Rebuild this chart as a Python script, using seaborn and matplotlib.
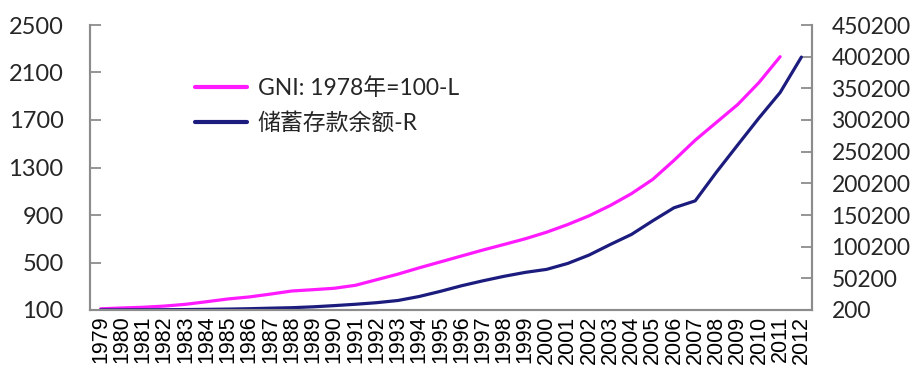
import numpy as np
import pandas as pd
import matplotlib
matplotlib.use("Agg")
import matplotlib.pyplot as plt
import seaborn as sns
from matplotlib.lines import Line2D

# Years on the category axis
years = list(range(1979, 2013))

# GNI index (1978 = 100), left axis; 2012 not available
gni_index = [110, 117, 123, 133, 148, 170, 193, 210, 234, 260, 271, 283, 308,
             355, 402, 455, 505, 555, 605, 652, 700, 755, 820, 893, 980, 1080,
             1200, 1360, 1530, 1680, 1830, 2015, 2233, np.nan]

# Savings deposit balance, right axis
savings = [281, 400, 524, 675, 893, 1215, 1623, 2238, 3081, 3822, 5196, 7120,
           9242, 11759, 15204, 21519, 29662, 38521, 46280, 53408, 59622, 64332,
           73762, 86911, 103618, 119555, 141051, 161587, 172534, 217885, 260772,
           303303, 343636, 399551]

label_gni = "GNI: 1978年=100-L"
label_sav = "储蓄存款余额-R"

left_ticks = [100, 500, 900, 1300, 1700, 2100, 2500]
right_ticks = [200, 50200, 100200, 150200, 200200, 250200, 300200, 350200, 400200, 450200]

df = pd.DataFrame({"year": years, "gni": gni_index, "savings": savings})

sns.set_theme(style="white")
plt.rcParams["font.family"] = ["Lato", "Noto Sans CJK SC", "DejaVu Sans"]

PINK = "#ff1aff"
NAVY = "#1c1c7e"
SPINE = "#8c8c8c"

fig = plt.figure(figsize=(9.13, 3.72), dpi=100)
ax = fig.add_axes([90 / 913, 1 - 310 / 372, 722 / 913, 285 / 372])
ax2 = ax.twinx()

sns.lineplot(data=df, x="year", y="gni", ax=ax, color=PINK, linewidth=2.3)
sns.lineplot(data=df, x="year", y="savings", ax=ax2, color=NAVY, linewidth=2.3)

ax.set_xlim(years[0] - 0.5, years[-1] + 0.5)
ax.set_ylim(left_ticks[0], left_ticks[-1])
ax2.set_ylim(right_ticks[0], right_ticks[-1])

ax.set_xlabel("")
ax.set_ylabel("")
ax2.set_ylabel("")

# Category labels at year centres, tick marks between categories
ax.set_xticks(years)
ax.set_xticklabels([str(y) for y in years], rotation=90,
                   fontsize=15.5, family="Liberation Sans")
ax.set_xticks(np.arange(years[0] + 0.5, years[-1], 1.0), minor=True)
ax.tick_params(axis="x", which="major", length=0, pad=4, colors="black")
ax.tick_params(axis="x", which="minor", length=5, width=1.3,
               direction="in", color="#555555")

ax.set_yticks(left_ticks)
ax.set_yticklabels([str(v) for v in left_ticks], fontsize=17)
ax.tick_params(axis="y", length=8, width=1.3, direction="in",
               color=SPINE, pad=19)

ax2.set_yticks(right_ticks)
ax2.set_yticklabels([str(v) for v in right_ticks], fontsize=16.5)
ax2.tick_params(axis="y", length=8, width=1.3, direction="in",
                color=SPINE, pad=14)

for a in (ax, ax2):
    a.spines["top"].set_visible(False)
    for s in ("left", "right", "bottom"):
        a.spines[s].set_color(SPINE)
        a.spines[s].set_linewidth(1.5)
    a.grid(False)

handles = [Line2D([0], [0], color=PINK, linewidth=3),
           Line2D([0], [0], color=NAVY, linewidth=3)]
ax.legend(handles, [label_gni, label_sav], loc="upper left",
          bbox_to_anchor=(0.145, 0.815), frameon=False, fontsize=16.5,
          handlelength=2.3, handletextpad=0.45, labelspacing=0.55,
          borderpad=0, borderaxespad=0)

fig.savefig("out.png", dpi=100)
